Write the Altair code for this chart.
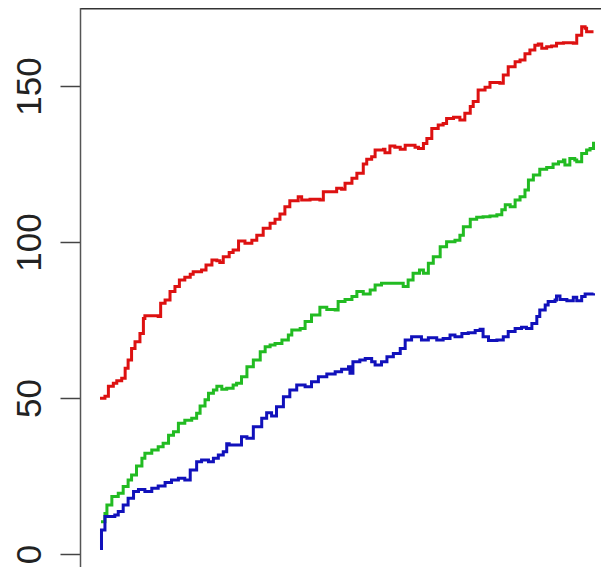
import altair as alt
import pandas as pd

# ---- data ----
red_x = [0, 1.0, 1.7, 2.7, 3.4, 4.4, 5.1, 5.7, 6.4, 7.1, 8.1, 8.8, 9.1, 11.2, 11.8, 12.3, 13.2, 14.2,
         15.2, 16.1, 17.2, 18.3, 18.9, 20.6, 21.5, 22.7, 23.7, 24.3, 25.0, 26.2, 27.0, 28.1, 29.4,
         30.8, 31.8, 33.1, 34.5, 35.5, 36.5, 37.5, 38.5, 40.2, 40.9, 42.6, 44.6, 45.3, 46.7, 48.0,
         49.0, 49.7, 51.1, 52.1, 53.4, 54.1, 55.1, 55.8, 57.5, 57.8, 58.8, 59.8, 60.9, 61.9, 63.2,
         63.9, 64.6, 65.6, 66.3, 67.3, 68.6, 69.6, 70.3, 71.7, 73.0, 74.0, 75.1, 75.7, 76.7, 78.1,
         79.1, 81.1, 81.8, 82.8, 84.2, 85.2, 86.2, 87.2, 88.2, 88.9, 89.6, 90.6, 91.6, 92.6, 94.0,
         96.0, 96.7, 97.7, 98.4, 98.7, 100.1]
red_y = [49.9, 50.6, 53.8, 54.7, 55.5, 56.3, 59.5, 62.2, 65.9, 68.0, 70.7, 75.5, 76.4, 76.4, 76.1,
         80.4, 81.4, 84.1, 85.7, 87.8, 88.7, 89.7, 90.5, 91.0, 92.6, 94.2, 94.0, 93.4, 95.3, 96.6,
         97.4, 100.3, 99.6, 100.6, 102.2, 104.4, 106.0, 107.3, 109.0, 111.3, 113.2, 114.5, 113.5,
         113.7, 113.5, 116.1, 116.1, 117.2, 116.9, 118.8, 120.4, 122.0, 125.0, 126.5, 127.3, 129.5,
         129.7, 128.6, 130.8, 130.4, 129.7, 131.0, 131.0, 130.4, 130.0, 131.6, 133.2, 136.4, 137.5,
         138.0, 139.6, 140.0, 139.1, 141.3, 143.4, 145.0, 148.7, 149.6, 151.1, 150.9, 153.5, 156.2,
         157.8, 158.3, 160.3, 161.5, 163.1, 163.5, 162.1, 162.6, 162.8, 163.7, 163.9, 163.7, 166.3,
         169.0, 168.5, 167.4, 167.4]

green_x = [0.2, 1.0, 1.4, 2.4, 3.7, 4.7, 5.7, 6.4, 7.4, 8.5, 9.1, 10.5, 11.8, 12.8, 13.9, 14.9, 15.9,
           17.2, 18.6, 19.6, 20.3, 21.3, 22.0, 23.0, 23.7, 24.7, 25.7, 27.0, 27.7, 28.7, 29.8, 31.1,
           32.5, 33.5, 34.5, 35.5, 36.9, 38.2, 38.9, 40.6, 41.6, 42.9, 44.6, 46.0, 47.7, 48.3, 49.7,
           51.1, 52.1, 53.4, 54.8, 55.8, 57.1, 58.8, 60.5, 61.5, 62.5, 63.5, 64.8, 65.6, 66.6, 67.6,
           69.0, 70.3, 72.0, 73.0, 73.7, 75.1, 76.4, 77.7, 79.1, 80.5, 81.5, 82.2, 83.2, 84.2, 85.2,
           86.2, 86.9, 87.9, 89.2, 90.6, 91.9, 93.0, 94.0, 94.3, 95.3, 96.3, 96.7, 97.7, 98.7, 99.4,
           100.1]
green_y = [10.3, 13.0, 15.7, 18.4, 19.5, 21.6, 23.7, 25.3, 28.2, 30.7, 32.3, 33.3, 34.4, 35.5, 38.1,
           39.2, 41.9, 42.9, 43.5, 45.1, 47.4, 49.4, 51.5, 52.6, 53.8, 52.8, 53.1, 54.2, 54.7, 56.8,
           60.0, 62.2, 64.8, 66.4, 67.0, 67.5, 68.6, 70.2, 71.8, 72.3, 74.5, 76.6, 79.1, 78.4, 78.2,
           80.9, 81.6, 82.5, 84.1, 83.3, 84.6, 86.2, 86.8, 86.8, 86.8, 85.7, 87.8, 90.0, 91.0, 90.0,
           93.2, 95.3, 98.5, 100.1, 100.6, 102.2, 104.9, 107.3, 107.9, 108.1, 108.3, 108.7, 110.3,
           111.9, 111.3, 113.5, 114.5, 116.7, 119.9, 121.5, 123.3, 123.9, 125.0, 125.7, 126.3, 124.7,
           126.8, 126.3, 125.7, 128.4, 129.5, 130.0, 132.1]

blue_x = [0, 0.3, 1.0, 2.0, 3.0, 3.7, 4.7, 5.7, 6.8, 7.8, 9.1, 10.5, 11.8, 13.2, 14.5, 15.9, 17.2,
          18.3, 19.6, 20.6, 22.0, 23.0, 24.0, 25.0, 25.7, 26.2, 27.4, 28.7, 29.8, 31.1, 32.8, 33.8,
          34.8, 35.8, 37.2, 38.5, 39.9, 41.6, 42.9, 44.3, 46.0, 47.7, 49.0, 50.4, 50.7, 51.3, 52.7,
          53.8, 55.1, 55.8, 57.1, 58.2, 59.5, 60.9, 61.9, 63.2, 63.9, 65.2, 66.6, 68.3, 69.6, 71.0,
          72.0, 73.4, 74.7, 76.1, 77.1, 77.7, 78.8, 80.5, 81.8, 82.8, 84.2, 85.5, 86.5, 87.6, 88.6,
          89.2, 90.3, 90.9, 92.3, 92.6, 93.3, 94.7, 96.0, 96.7, 97.7, 98.4, 100.1]
blue_y = [1.8, 7.7, 12.0, 12.0, 12.5, 13.6, 15.7, 17.9, 20.0, 20.7, 20.0, 21.1, 21.8, 22.9, 23.7, 24.3,
          23.7, 26.9, 29.6, 30.1, 29.6, 30.7, 31.7, 32.8, 35.3, 34.9, 34.9, 37.6, 37.1, 40.8, 43.5,
          45.3, 44.2, 47.2, 50.4, 52.6, 54.2, 53.6, 55.2, 56.8, 57.7, 58.4, 59.2, 60.0, 57.9, 61.6,
          62.2, 62.7, 61.6, 60.6, 61.6, 63.2, 64.3, 65.9, 68.6, 69.6, 69.6, 68.6, 69.3, 68.6, 69.1,
          70.2, 69.6, 70.7, 70.9, 71.6, 72.0, 69.6, 68.4, 68.6, 69.6, 71.3, 72.3, 72.7, 72.3, 73.9,
          76.1, 78.2, 79.8, 80.9, 81.4, 82.7, 81.6, 81.2, 82.3, 81.2, 82.5, 83.3, 83.6]

series_names = ["red", "green", "blue"]
series_colors = ["#DD1111", "#22BB22", "#1111BB"]
y_ticks = [0, 50, 100, 150]

rows = []
for name, xs, ys in [("red", red_x, red_y), ("green", green_x, green_y), ("blue", blue_x, blue_y)]:
    for i, (a, b) in enumerate(zip(xs, ys)):
        rows.append({"series": name, "x": a, "y": b, "order": i})
df = pd.DataFrame(rows)

W, H = 521, 546
PAD_L, PAD_B = 72, 13

xscale = alt.Scale(domain=[-4.06, 101.62], nice=False, zero=False)
yscale = alt.Scale(domain=[0.0, 175.0], nice=False, zero=False)

lines = alt.Chart(df).mark_line(strokeWidth=3, interpolate="step-after").encode(
    x=alt.X("x:Q", scale=xscale, axis=None),
    y=alt.Y("y:Q", scale=yscale,
            axis=alt.Axis(values=y_ticks, title=None, grid=False, tickSize=20, tickWidth=1.5,
                          tickColor="#444444", domain=False,
                          labelFont="Liberation Sans", labelFontSize=35, labelColor="#222222",
                          labelAngle=270, labelAlign="center", labelBaseline="alphabetic",
                          labelPadding=20, labelFlush=False, labelOverlap=False)),
    color=alt.Color("series:N", scale=alt.Scale(domain=series_names, range=series_colors),
                    legend=None),
    detail="series:N",
    order="order:Q",
)

frame_df = pd.DataFrame({"a": [0]})
top = alt.Chart(frame_df).mark_rule(color="#333333", strokeWidth=1.5).encode(
    x=alt.value(0), x2=alt.value(W), y=alt.value(0.75)
)
left = alt.Chart(frame_df).mark_rule(color="#555555", strokeWidth=1.5).encode(
    x=alt.value(0.5), y=alt.value(0), y2=alt.value(H + PAD_B)
)

chart = alt.layer(lines, top, left).properties(
    width=W, height=H,
    autosize=alt.AutoSizeParams(type="none"),
    padding={"left": PAD_L, "top": 0, "right": 0, "bottom": PAD_B},
).configure_view(stroke=None)

chart.save("out.html", embed_options={"renderer": "svg", "actions": False})
